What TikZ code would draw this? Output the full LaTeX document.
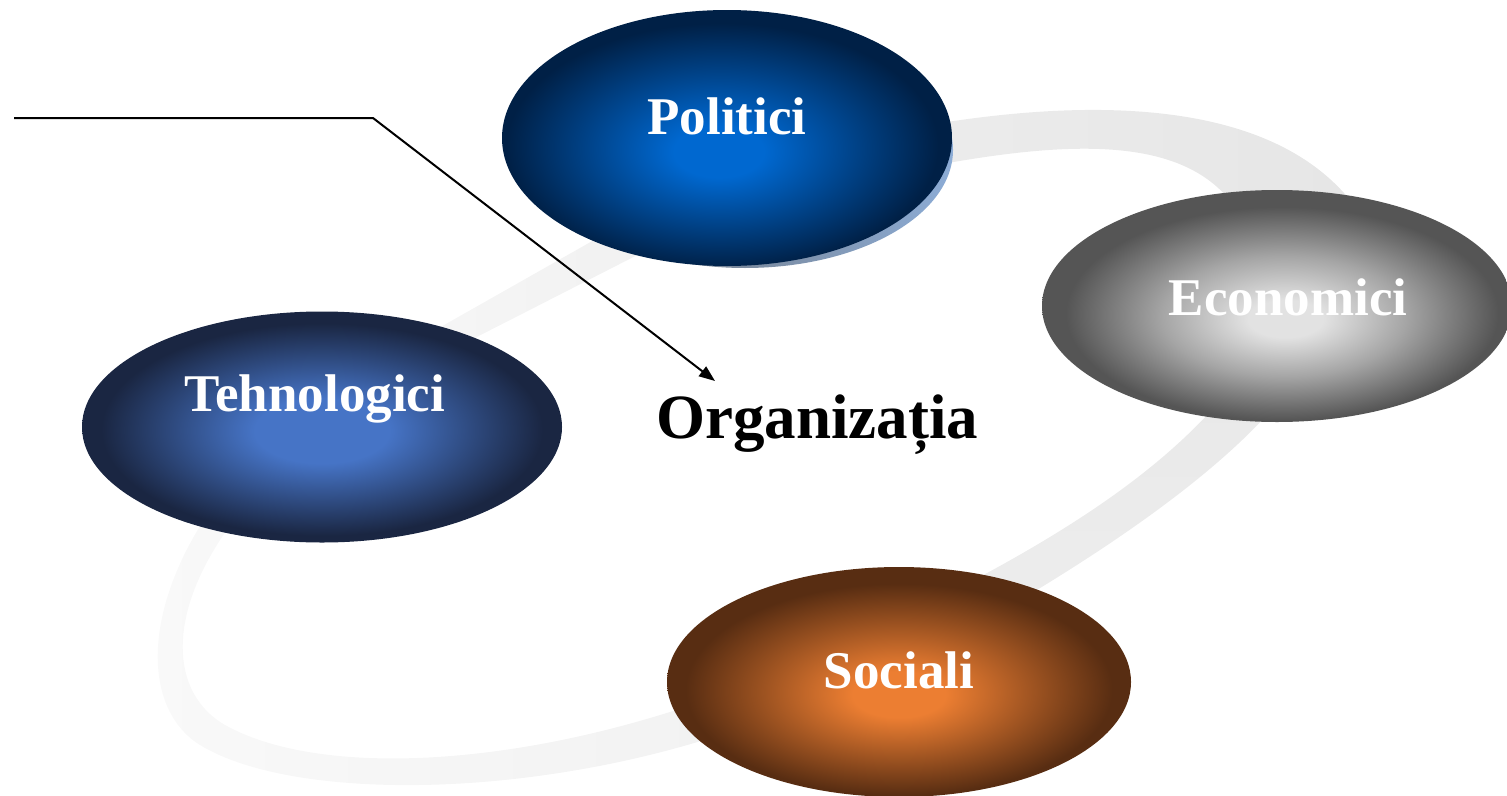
\documentclass[tikz,border=0pt]{standalone}
\usepackage{fontspec}
\setmainfont{Liberation Serif}
\usetikzlibrary{shapes.geometric,arrows.meta}
\definecolor{polc}{RGB}{0,104,208}
\definecolor{pole}{RGB}{0,32,70}
\definecolor{ecoc}{RGB}{226,226,226}
\definecolor{ecom}{RGB}{165,165,165}
\definecolor{ecoe}{RGB}{85,85,85}
\definecolor{tehc}{RGB}{70,116,198}
\definecolor{tehe}{RGB}{26,38,66}
\definecolor{socc}{RGB}{236,126,50}
\definecolor{soce}{RGB}{88,45,18}
\definecolor{shblue}{RGB}{140,172,214}
\definecolor{shgray}{RGB}{105,105,105}
\definecolor{ringA}{RGB}{236,236,236}
\definecolor{ringB}{RGB}{230,230,230}
\definecolor{ringC}{RGB}{233,233,233}
\definecolor{ringD}{RGB}{237,237,237}
\definecolor{ringE}{RGB}{249,249,249}
\definecolor{ringF}{RGB}{242,242,242}
\definecolor{ringG}{RGB}{246,246,246}
\definecolor{ringH}{RGB}{240,240,240}
\pgfdeclareradialshading{polshade}{\pgfpoint{-1bp}{-3bp}}{color(0bp)=(polc); color(5bp)=(polc); color(24bp)=(pole); color(50bp)=(pole)}
\pgfdeclareradialshading{ecoshade}{\pgfpoint{1bp}{-3bp}}{color(0bp)=(ecoc); color(4bp)=(ecoc); color(13bp)=(ecom); color(23bp)=(ecoe); color(50bp)=(ecoe)}
\pgfdeclareradialshading{tehshade}{\pgfpoint{0bp}{-1bp}}{color(0bp)=(tehc); color(7bp)=(tehc); color(23bp)=(tehe); color(50bp)=(tehe)}
\pgfdeclareradialshading{socshade}{\pgfpoint{0bp}{-3bp}}{color(0bp)=(socc); color(5bp)=(socc); color(23bp)=(soce); color(50bp)=(soce)}
\begin{document}
\begin{tikzpicture}[x=1pt,y=-1pt,
  blob/.style={ellipse, draw=none, inner sep=0pt, outer sep=0pt},
  lbl/.style={font=\fontsize{53}{60}\selectfont\bfseries, text=white, anchor=base, inner sep=0pt}]
\useasboundingbox (0,0) rectangle (1507,795);
% ring (background loop)
\shade[left color=ringA, right color=ringB]
  (900,130) .. controls (1060,100) and (1260,90) .. (1350,200)
  -- (1240,215) .. controls (1190,130) and (1060,140) .. (900,172) -- cycle;
\shade[top color=ringC, bottom color=ringD]
  (1280,400) .. controls (1230,460) and (1140,530) .. (1000,612)
  -- (955,590) .. controls (1090,520) and (1170,460) .. (1225,395) -- cycle;
\shade[left color=ringE, right color=ringF]
  (720,735) .. controls (520,800) and (290,800) .. (200,745)
  .. controls (140,708) and (140,600) .. (225,490)
  -- (250,500) .. controls (165,600) and (165,690) .. (225,725)
  .. controls (320,778) and (520,768) .. (720,695) -- cycle;
\shade[left color=ringG, right color=ringH]
  (400,350) -- (640,214) -- (700,223) -- (420,366) -- cycle;
% shadow of Politici
\node[blob, minimum width=416pt, minimum height=236pt, left color=shgray, middle color=shgray, right color=shblue] (polshadow) at (745,150) {};
% ellipses
\node[blob, minimum width=450pt, minimum height=256pt, shade, shading=polshade] (pol) at (727,138) {};
\node[blob, minimum width=470pt, minimum height=232pt, shade, shading=ecoshade] (eco) at (1277,306) {};
\node[blob, minimum width=480pt, minimum height=231pt, shade, shading=tehshade] (teh) at (322,427) {};
\node[blob, minimum width=464pt, minimum height=230pt, shade, shading=socshade] (soc) at (899,682) {};
% labels
\node[lbl] (poltext) at (727,134) {Politici};
\node[lbl] (ecotext) at (1288,315) {Economici};
\node[lbl] (tehtext) at (315,411) {Tehnologici};
\node[lbl] (soctext) at (899,688) {Sociali};
\node[font=\fontsize{63}{70}\selectfont\bfseries, anchor=base, inner sep=0pt] (org) at (817,438) {Organizația};
% pointer
\coordinate (ls) at (14,118);
\coordinate (lb) at (373,118);
\coordinate (lt) at (715,381);
\draw[line width=2pt, -{Triangle[length=16pt,width=12pt]}] (ls) -- (lb) -- (lt);
\end{tikzpicture}
\end{document}
